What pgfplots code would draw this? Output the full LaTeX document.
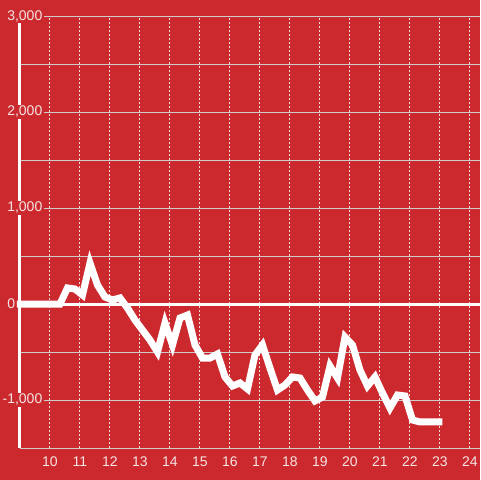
\documentclass[border=0pt]{standalone}
\usepackage{pgfplots}
\pgfplotsset{compat=1.18}
\usepackage{fontspec}
\setmainfont{Liberation Sans}
\definecolor{bgred}{RGB}{204,41,46}
\definecolor{gridgray}{RGB}{205,205,205}
\definecolor{lbl}{RGB}{245,228,228}

\begin{document}
\begin{tikzpicture}
\useasboundingbox (-15pt,-24pt) rectangle (345pt,336pt);
\fill[bgred] (-15pt,-24pt) rectangle (345pt,336pt);
\begin{axis}[
  at={(0,0)}, anchor=south west,
  scale only axis, width=345pt, height=324pt,
  xmin=9, xmax=24.3333, ymin=-1500, ymax=3000,
  clip=false,
  axis x line=bottom, axis y line=left,
  axis line style={-},
  x axis line style={gridgray, line width=0.75pt},
  y axis line style={white, line width=2.25pt},
  xtick={10,...,24},
  ytick={-1000,0,1000,2000,3000},
  yticklabels={{\llap{-}1,000},0,{1,000},{2,000},{3,000}},
  minor ytick={-500,500,1500,2500},
  xmajorgrids, ymajorgrids, yminorgrids,
  major grid style={}, minor grid style={},
  every axis x grid/.style={white!85!bgred, line width=0.75pt, dash pattern=on 1.5pt off 1.5pt},
  every axis y grid/.style={gridgray, line width=0.75pt},
  major tick length=0pt, minor tick length=0pt,
  /pgf/number format/assume math mode=true,
  yticklabel style={font=\fontsize{10.5}{12}\selectfont, text=lbl, fill=bgred, inner xsep=1.5pt, inner ysep=1pt, anchor=west, xshift=-11.25pt},
  xticklabel style={font=\fontsize{10.5}{12}\selectfont, text=lbl, yshift=-3pt},
]
\addplot[white, line width=2.25pt] coordinates {(9,0) (24.3333,0)};
\addplot[white, line width=5.25pt] coordinates {
(8.9,0) (10.333,0) (10.583,167) (10.833,156) (11.083,94) (11.333,427)
(11.583,198) (11.833,73) (12.083,42) (12.333,63) (12.583,-42) (12.833,-167)
(13.083,-271) (13.333,-375) (13.583,-500) (13.833,-198) (14.083,-427)
(14.333,-146) (14.583,-115) (14.833,-427) (15.083,-563) (15.333,-563)
(15.583,-521) (15.833,-760) (16.083,-854) (16.333,-823) (16.583,-885)
(16.833,-531) (17.083,-427) (17.333,-667) (17.583,-896) (17.833,-844)
(18.083,-760) (18.333,-771) (18.583,-896) (18.833,-1010) (19.083,-969)
(19.333,-646) (19.583,-771) (19.833,-344) (20.083,-427) (20.333,-688)
(20.583,-854) (20.833,-760) (21.083,-927) (21.333,-1083) (21.583,-948)
(21.833,-958) (22.083,-1208) (22.333,-1229) (22.583,-1229) (22.833,-1229)
(23.083,-1229)
};
\end{axis}
\end{tikzpicture}
\end{document}
